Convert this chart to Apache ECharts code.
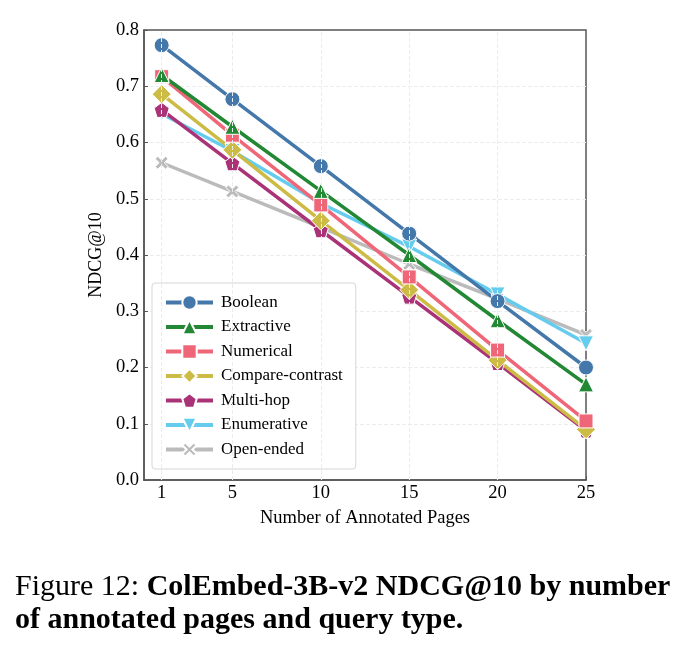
<!DOCTYPE html>
<html>
<head>
<meta charset="utf-8">
<script src="https://cdn.jsdelivr.net/npm/echarts@6/dist/echarts.min.js"></script>
<style>
  html, body { margin: 0; padding: 0; background: #fff; }
  #chart { width: 686px; height: 651px; }
</style>
</head>
<body>
<div id="chart"></div>
<script>
const pages = [1, 5, 10, 15, 20, 25];
const gridPages = [1, 5, 10, 15, 20];

const boolean = [0.773, 0.677, 0.558, 0.438, 0.318, 0.200];
const extractive = [0.720, 0.628, 0.514, 0.400, 0.284, 0.170];
const numerical = [0.717, 0.613, 0.489, 0.361, 0.231, 0.105];
const compareContrast = [0.686, 0.587, 0.461, 0.338, 0.213, 0.090];
const multiHop = [0.658, 0.563, 0.444, 0.326, 0.208, 0.088];
const enumerative = [0.651, 0.585, 0.492, 0.415, 0.330, 0.243];
const openEnded = [0.564, 0.513, 0.449, 0.384, 0.322, 0.258];

const pentagon = "path://M0,-1 L0.951,-0.309 L0.588,0.809 L-0.588,0.809 L-0.951,-0.309 Z";
const cross = "path://M2,0 L5,3 L8,0 L10,2 L7,5 L10,8 L8,10 L5,7 L2,10 L0,8 L3,5 L0,2 Z";

const seriesDefs = [
  { name: "Boolean", data: boolean, color: "#4477AA", symbol: "circle", size: 15 },
  { name: "Extractive", data: extractive, color: "#228833", symbol: "triangle", size: 15 },
  { name: "Numerical", data: numerical, color: "#EE6677", symbol: "rect", size: 14 },
  { name: "Compare-contrast", data: compareContrast, color: "#CCBB44", symbol: "diamond", size: 19 },
  { name: "Multi-hop", data: multiHop, color: "#AA3377", symbol: pentagon, size: 15 },
  { name: "Enumerative", data: enumerative, color: "#66CCEE", symbol: "triangle", size: 15, rotate: 180 },
  { name: "Open-ended", data: openEnded, color: "#BBBBBB", symbol: cross, size: 13 },
];

const serif = "Liberation Serif, DejaVu Serif, serif";

const chart = echarts.init(document.getElementById("chart"));

// first series ends up on top, like the original plot
const lineSeries = seriesDefs.map((s) => ({
  name: s.name,
  type: "line",
  data: s.data.map((v, i) => [pages[i], v]),
  color: s.color,
  symbol: s.symbol,
  symbolSize: s.size,
  symbolRotate: s.rotate || 0,
  showAllSymbol: true,
  lineStyle: { width: 3.5, color: s.color },
  itemStyle: { color: s.color, borderColor: "#fff", borderWidth: 1 },
  emphasis: { disabled: true },
})).reverse();

const option = {
  animation: false,
  textStyle: { fontFamily: serif },
  title: {
    left: 10,
    top: 566,
    text: "{n|Figure 12: }{b|ColEmbed-3B-v2 NDCG@10 by number}\n{b|of annotated pages and query type.}",
    textStyle: {
      fontWeight: "normal",
      rich: {
        n: { fontFamily: serif, fontSize: 30, fontWeight: "normal", color: "#000", lineHeight: 33 },
        b: { fontFamily: serif, fontSize: 30, fontWeight: "bold", color: "#000", lineHeight: 33 },
      },
    },
  },
  grid: {
    left: 144,
    right: 100,
    top: 30,
    bottom: 171,
    show: true,
    borderColor: "#555",
    borderWidth: 1.5,
  },
  legend: {
    orient: "vertical",
    left: 152,
    top: 283,
    padding: [11, 13, 11, 12],
    itemWidth: 47,
    itemHeight: 18,
    itemGap: 7.5,
    backgroundColor: "#fff",
    borderColor: "#d6d6d6",
    borderWidth: 1,
    borderRadius: 3,
    lineStyle: { width: 4 },
    textStyle: { fontFamily: serif, fontSize: 17, color: "#000", padding: [0, 0, 0, 3] },
    data: seriesDefs.map((s) => s.name),
  },
  xAxis: {
    type: "value",
    min: 0,
    max: 25,
    name: "Number of Annotated Pages",
    nameLocation: "middle",
    nameGap: 29,
    nameTextStyle: { fontFamily: serif, fontSize: 18.5, color: "#000" },
    axisLine: { show: true, lineStyle: { color: "#555", width: 1.5 } },
    axisTick: { show: true, inside: true, length: 4, customValues: pages, lineStyle: { color: "#555" } },
    axisLabel: { customValues: pages, fontFamily: serif, fontSize: 18.5, color: "#000", margin: 4 },
    splitLine: { show: false },
  },
  yAxis: {
    type: "value",
    min: 0,
    max: 0.8,
    interval: 0.1,
    name: "NDCG@10",
    nameLocation: "middle",
    nameGap: 38,
    nameTextStyle: { fontFamily: serif, fontSize: 18, color: "#000" },
    axisLine: { show: true, lineStyle: { color: "#555", width: 1.5 } },
    axisTick: { show: true, inside: true, length: 4, lineStyle: { color: "#555" } },
    axisLabel: {
      fontFamily: serif, fontSize: 18.5, color: "#000", margin: 5,
      formatter: (v) => v.toFixed(1),
    },
    splitLine: {
      show: true,
      showMinLine: false,
      showMaxLine: false,
      lineStyle: { color: "#ececec", type: "dashed", width: 1 },
    },
  },
  series: lineSeries,
};

// vertical dashed grid lines at the x ticks
option.series.push({
  type: "line",
  silent: true,
  data: [],
  markLine: {
    symbol: "none",
    silent: true,
    label: { show: false },
    lineStyle: { color: "#ececec", type: "dashed", width: 1 },
    data: gridPages.map((p) => ({ xAxis: p })),
  },
  z: 0,
});

chart.setOption(option);
</script>
</body>
</html>
